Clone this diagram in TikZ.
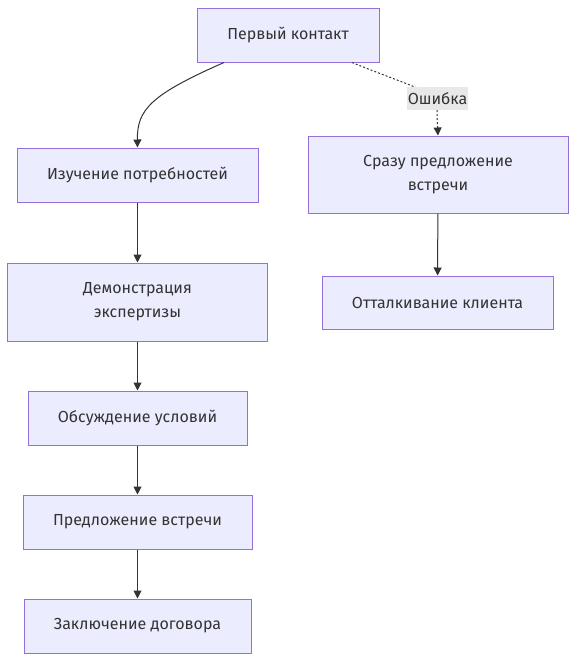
\documentclass[tikz,border=0pt]{standalone}
\usepackage{fontspec}
\setmainfont{Fira Sans}
\usetikzlibrary{arrows.meta}

\definecolor{boxfill}{HTML}{ECECFF}
\definecolor{boxline}{HTML}{9370DB}
\definecolor{ink}{HTML}{333333}
\definecolor{tagfill}{HTML}{E8E8E8}

\tikzset{
    stagebox/.style={draw=boxline, fill=boxfill, line width=1pt, text=ink,
        align=center, inner sep=0pt, font=\fontsize{16}{24}\selectfont},
    flow/.style={draw=ink, line width=1pt, -{Triangle[length=8pt,width=8pt]}},
    slip/.style={flow, dash pattern=on 2pt off 2pt}
}

\begin{document}
\begin{tikzpicture}[x=1pt, y=-1pt]
\useasboundingbox (0,0) rectangle (576,662);

% Main path
\node[stagebox, minimum width=182pt, minimum height=54pt] (first) at (288,35) {Первый контакт};
\node[stagebox, minimum width=241pt, minimum height=54pt] (needs) at (137.5,175) {Изучение потребностей};
\node[stagebox, minimum width=260pt, minimum height=78pt] (demo) at (137.5,302) {Демонстрация\\экспертизы};
\node[stagebox, minimum width=219pt, minimum height=54pt] (terms) at (137.5,418) {Обсуждение условий};
\node[stagebox, minimum width=229pt, minimum height=54pt] (meet) at (137.5,522) {Предложение встречи};
\node[stagebox, minimum width=227pt, minimum height=54pt] (deal) at (137.5,626) {Заключение договора};

% Wrong path
\node[stagebox, minimum width=260pt, minimum height=77pt] (rush) at (438,174.5) {Сразу предложение\\встречи};
\node[stagebox, minimum width=231pt, minimum height=53pt] (push) at (437.5,302.5) {Отталкивание клиента};

% Arrows
\draw[flow] ([xshift=-64pt]first.south) .. controls (150,95) and (137,110) .. (needs.north);
\foreach \a/\b in {needs/demo, demo/terms, terms/meet, meet/deal, rush/push}
    \draw[flow] (\a) -- (\b);
\draw[slip] ([xshift=64pt]first.south) .. controls (395,80) and (433,92) .. (437,99)
    .. controls (437,115) .. (rush.north);
\node[fill=tagfill, text=ink, inner sep=1pt, minimum width=59pt, minimum height=23pt,
    font=\fontsize{16}{18}\selectfont] (err) at (437.5,98.5) {Ошибка};
\end{tikzpicture}
\end{document}
